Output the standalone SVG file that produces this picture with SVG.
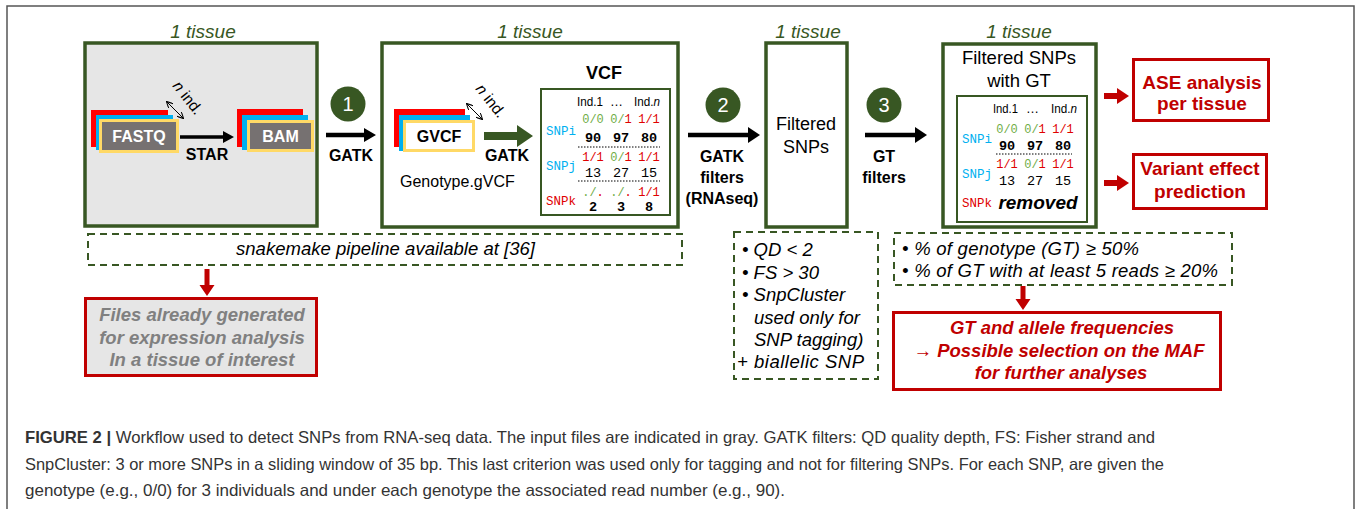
<svg xmlns="http://www.w3.org/2000/svg" width="1356" height="509" viewBox="0 0 1356 509">
<style>
.sans{font-family:"Liberation Sans",Arial,sans-serif}
.mono{font-family:"Liberation Mono","DejaVu Sans Mono",monospace}
.tissue{font-family:"Liberation Sans",Arial,sans-serif;font-style:italic;font-size:19px;fill:#385723;text-anchor:middle}
.box{fill:none;stroke:#385723;stroke-width:3.5}
.tbl{fill:#fff;stroke:#385723;stroke-width:2}
.dash{fill:#fff;stroke:#385723;stroke-width:2;stroke-dasharray:7 5}
.redbox{stroke:#c00000;stroke-width:3}
.lbl{font-family:"Liberation Sans",Arial,sans-serif;font-weight:bold;font-size:16px;text-anchor:middle;fill:#000}
.num{font-family:"Liberation Sans",Arial,sans-serif;font-size:20px;fill:#fff;text-anchor:middle}
.hdr{font-family:"Liberation Sans",Arial,sans-serif;font-size:13px;fill:#000}
.g{fill:#70ad47}.r{fill:#e00000}.c{fill:#00b0f0}
.geno{font-family:"Liberation Mono","DejaVu Sans Mono",monospace;font-size:12px;text-anchor:middle}
.cnt{font-family:"Liberation Mono","DejaVu Sans Mono",monospace;font-size:13.5px;text-anchor:middle;fill:#000}
.dot{stroke:#000;stroke-width:1;stroke-dasharray:1.5 1.5}
.it{font-family:"Liberation Sans",Arial,sans-serif;font-style:italic;font-size:18.5px;fill:#000}
.redt{font-family:"Liberation Sans",Arial,sans-serif;font-weight:bold;font-size:19px;fill:#c00000;text-anchor:middle}
.redi{font-family:"Liberation Sans",Arial,sans-serif;font-weight:bold;font-style:italic;font-size:18.5px;fill:#c00000;text-anchor:middle}
.gray{font-family:"Liberation Sans",Arial,sans-serif;font-weight:bold;font-style:italic;font-size:18.5px;fill:#808080;text-anchor:middle}
.cap{font-family:"Liberation Sans",Arial,sans-serif;font-size:16.5px;fill:#333}
</style>
<defs>
<marker id="sm" viewBox="0 0 8 8" refX="7" refY="4" markerWidth="7" markerHeight="7" markerUnits="userSpaceOnUse" orient="auto-start-reverse">
<path d="M0,0 L8,4 L0,8" fill="none" stroke="#000" stroke-width="1.2"/>
</marker>
</defs>

<rect x="7" y="6" width="1347" height="520" fill="#fff" stroke="#555" stroke-width="1.5"/>

<!-- Box 1 -->
<g id="box1">
<text class="tissue" x="203" y="38">1 tissue</text>
<rect x="85" y="43" width="232" height="183" fill="#e6e6e6" stroke="#385723" stroke-width="3.5"/>
<rect x="91" y="110" width="77" height="37" fill="#ff0000"/>
<rect x="96" y="115" width="77" height="35" fill="#00b0f0"/>
<rect x="100.5" y="120.5" width="77" height="31" fill="#767171" stroke="#ffd966" stroke-width="3"/>
<text class="lbl" x="139" y="142" style="fill:#fff">FASTQ</text>
<rect x="237" y="109" width="66" height="38" fill="#ff0000"/>
<rect x="242" y="115" width="66" height="35" fill="#00b0f0"/>
<rect x="248.5" y="121.5" width="64" height="29" fill="#767171" stroke="#ffd966" stroke-width="3"/>
<text class="lbl" x="280.5" y="142" style="fill:#fff">BAM</text>
<text class="lbl" x="207" y="160">STAR</text>
<text class="sans" font-size="15.5" transform="translate(172,86) rotate(52)"><tspan font-style="italic">n</tspan> ind.</text>
<line x1="167" y1="102" x2="183" y2="118" stroke="#000" stroke-width="1" marker-start="url(#sm)" marker-end="url(#sm)"/>
</g>

<!-- Box 2 -->
<g id="box2">
<text class="tissue" x="530" y="38">1 tissue</text>
<rect x="382" y="43" width="296" height="184" class="box"/>
<rect x="394" y="109" width="71" height="38" fill="#ff0000"/>
<rect x="399" y="115" width="71" height="36" fill="#00b0f0"/>
<rect x="404.5" y="121.5" width="69" height="29" fill="#fff" stroke="#ffd966" stroke-width="3"/>
<text class="lbl" x="439" y="142">GVCF</text>
<text class="sans" font-size="15.5" transform="translate(475,89) rotate(52)"><tspan font-style="italic">n</tspan> ind.</text>
<line x1="467" y1="104" x2="482" y2="119" stroke="#000" stroke-width="1" marker-start="url(#sm)" marker-end="url(#sm)"/>
<text class="lbl" x="507" y="161">GATK</text>
<text class="sans" font-size="16" x="400" y="187">Genotype.gVCF</text>
<text class="sans" font-size="18" font-weight="bold" x="604" y="79" text-anchor="middle">VCF</text>
<rect x="541" y="89" width="129" height="126" class="tbl"/>
<text class="hdr" x="577" y="106" textLength="26" lengthAdjust="spacingAndGlyphs">Ind.1</text>
<text class="hdr" x="610" y="106">…</text>
<text class="hdr" x="634" y="106" textLength="26" lengthAdjust="spacingAndGlyphs">Ind.<tspan font-style="italic">n</tspan></text>
<text class="mono c" font-size="12.5" x="546" y="135">SNPi</text>
<text class="geno" x="593" y="123"><tspan class="g">0/0</tspan></text>
<text class="geno" x="621" y="123"><tspan class="g">0/</tspan><tspan class="r">1</tspan></text>
<text class="geno" x="649" y="123"><tspan class="r">1/1</tspan></text>
<text class="cnt" font-weight="bold" x="593" y="142">90</text>
<text class="cnt" font-weight="bold" x="621" y="142">97</text>
<text class="cnt" font-weight="bold" x="649" y="142">80</text>
<line x1="578" y1="147" x2="660" y2="147" class="dot"/>
<text class="mono c" font-size="12.5" x="546" y="170">SNPj</text>
<text class="geno" x="593" y="161"><tspan class="r">1/1</tspan></text>
<text class="geno" x="621" y="161"><tspan class="g">0/</tspan><tspan class="r">1</tspan></text>
<text class="geno" x="649" y="161"><tspan class="r">1/1</tspan></text>
<text class="cnt" x="593" y="177">13</text>
<text class="cnt" x="621" y="177">27</text>
<text class="cnt" x="649" y="177">15</text>
<line x1="578" y1="181" x2="660" y2="181" class="dot"/>
<text class="mono r" font-size="12.5" x="546" y="205">SNPk</text>
<text class="geno" x="593" y="196"><tspan class="g">./</tspan><tspan class="r">.</tspan></text>
<text class="geno" x="621" y="196"><tspan class="g">./</tspan><tspan class="r">.</tspan></text>
<text class="geno" x="649" y="196"><tspan class="r">1/1</tspan></text>
<text class="cnt" font-weight="bold" x="593" y="211">2</text>
<text class="cnt" font-weight="bold" x="621" y="211">3</text>
<text class="cnt" font-weight="bold" x="649" y="211">8</text>
</g>

<!-- Box 3 -->
<g id="box3">
<text class="tissue" x="808" y="38">1 tissue</text>
<rect x="766" y="43" width="81" height="184" class="box"/>
<text class="sans" font-size="18" x="806" y="130" text-anchor="middle">Filtered</text>
<text class="sans" font-size="18" x="806" y="153" text-anchor="middle">SNPs</text>
</g>

<!-- Box 4 -->
<g id="box4">
<text class="tissue" x="1019" y="38">1 tissue</text>
<rect x="943" y="44" width="153" height="183" class="box"/>
<text class="sans" font-size="18.5" x="1019" y="64" text-anchor="middle">Filtered SNPs</text>
<text class="sans" font-size="18.5" x="1019" y="87" text-anchor="middle">with GT</text>
<rect x="957" y="96" width="130" height="126" class="tbl"/>
<text class="hdr" x="993" y="113" textLength="25" lengthAdjust="spacingAndGlyphs">Ind.1</text>
<text class="hdr" x="1026" y="113">…</text>
<text class="hdr" x="1051" y="113" textLength="26" lengthAdjust="spacingAndGlyphs">Ind.<tspan font-style="italic">n</tspan></text>
<text class="mono c" font-size="12.5" x="962" y="143">SNPi</text>
<text class="geno" x="1007" y="133"><tspan class="g">0/0</tspan></text>
<text class="geno" x="1035" y="133"><tspan class="g">0/</tspan><tspan class="r">1</tspan></text>
<text class="geno" x="1063" y="133"><tspan class="r">1/1</tspan></text>
<text class="cnt" font-weight="bold" x="1007" y="150">90</text>
<text class="cnt" font-weight="bold" x="1035" y="150">97</text>
<text class="cnt" font-weight="bold" x="1063" y="150">80</text>
<line x1="996" y1="154" x2="1072" y2="154" class="dot"/>
<text class="mono c" font-size="12.5" x="962" y="178">SNPj</text>
<text class="geno" x="1007" y="168"><tspan class="r">1/1</tspan></text>
<text class="geno" x="1035" y="168"><tspan class="g">0/</tspan><tspan class="r">1</tspan></text>
<text class="geno" x="1063" y="168"><tspan class="r">1/1</tspan></text>
<text class="cnt" x="1007" y="185">13</text>
<text class="cnt" x="1035" y="185">27</text>
<text class="cnt" x="1063" y="185">15</text>
<text class="mono r" font-size="12.5" x="962" y="207">SNPk</text>
<text class="sans" font-size="19" font-weight="bold" font-style="italic" x="1038" y="209" text-anchor="middle">removed</text>
</g>

<!-- Step circles -->
<g id="step1"><circle cx="348" cy="104" r="17.5" fill="#385723"/><text class="num" x="348" y="111">1</text></g>
<g id="step2"><circle cx="723" cy="105" r="17.5" fill="#385723"/><text class="num" x="723" y="112">2</text></g>
<g id="step3"><circle cx="884" cy="105" r="17.5" fill="#385723"/><text class="num" x="884" y="112">3</text></g>

<!-- Arrow labels -->
<g id="labels">
<text class="lbl" x="351" y="161">GATK</text>
<text class="lbl" x="722" y="162">GATK</text>
<text class="lbl" x="722" y="183">filters</text>
<text class="lbl" x="722" y="204">(RNAseq)</text>
<text class="lbl" x="884" y="162">GT</text>
<text class="lbl" x="884" y="183">filters</text>
</g>

<!-- Output boxes -->
<g id="ase">
<rect x="1133.5" y="59.5" width="135" height="61" fill="#fff" class="redbox"/>
<text class="redt" x="1202" y="89">ASE analysis</text>
<text class="redt" x="1202" y="110">per tissue</text>
</g>
<g id="variant">
<rect x="1133.5" y="154.5" width="133" height="54" fill="#fff" class="redbox"/>
<text class="redt" x="1200" y="175">Variant effect</text>
<text class="redt" x="1200" y="198">prediction</text>
</g>

<!-- Dashed notes -->
<g id="snakemake">
<rect x="88" y="234" width="594" height="31" class="dash"/>
<text class="it" font-size="15.5" x="236" y="255" textLength="299" lengthAdjust="spacing">snakemake pipeline available at [36]</text>
</g>
<g id="files">
<rect x="85.5" y="298.5" width="231" height="77" fill="#e6e6e6" class="redbox"/>
<text class="gray" x="202" y="321">Files already generated</text>
<text class="gray" x="202" y="344">for expression analysis</text>
<text class="gray" x="202" y="366">In a tissue of interest</text>
</g>
<g id="gatk-filters">
<rect x="734" y="232" width="144" height="147" class="dash"/>
<text class="it" x="742" y="256">• QD &lt; 2</text>
<text class="it" x="742" y="279">• FS &gt; 30</text>
<text class="it" x="742" y="301">• SnpCluster</text>
<text class="it" x="754" y="324">used only for</text>
<text class="it" x="754" y="346">SNP tagging)</text>
<text class="it" x="737" y="368" textLength="127" lengthAdjust="spacing">+ biallelic SNP</text>
</g>
<g id="gt-filters">
<rect x="894" y="233" width="338" height="52" class="dash"/>
<text class="it" x="902" y="255" textLength="237" lengthAdjust="spacing">•  % of genotype  (GT) ≥ 50%</text>
<text class="it" x="902" y="277" textLength="316" lengthAdjust="spacing">•  % of GT with at least 5 reads ≥ 20%</text>
</g>
<g id="gt-freq">
<rect x="893.5" y="312.5" width="327" height="77" fill="#fff" class="redbox"/>
<text class="redi" x="1062" y="334">GT and allele frequencies</text>
<text class="redi" x="1059" y="357">→  Possible selection on the MAF</text>
<text class="redi" x="1061" y="379">for further analyses</text>
</g>

<!-- Connectors -->
<g id="connectors">
<path d="M180,135.25 L223,135.25 L223,131 L234,137 L223,143 L223,138.75 L180,138.75 Z" fill="#000"/>
<path d="M326,132.75 L364,132.75 L364,128 L376,135 L364,142 L364,137.25 L326,137.25 Z" fill="#000"/>
<path d="M484,132 L517,132 L517,125 L533,136 L517,147 L517,140 L484,140 Z" fill="#385723"/>
<path d="M688,132.75 L748,132.75 L748,127 L760,135 L748,143 L748,137.25 L688,137.25 Z" fill="#000"/>
<path d="M865,132.75 L915,132.75 L915,127 L927,135 L915,143 L915,137.25 L865,137.25 Z" fill="#000"/>
<path d="M1104,93 L1117,93 L1117,88 L1129,96 L1117,104 L1117,99 L1104,99 Z" fill="#c00000"/>
<path d="M1104,180 L1117,180 L1117,175 L1129,183 L1117,191 L1117,186 L1104,186 Z" fill="#c00000"/>
<path d="M204.5,269 L204.5,285 L199.5,285 L207,296 L214.5,285 L209.5,285 L209.5,269 Z" fill="#c00000"/>
<path d="M1020.5,286 L1020.5,299 L1015.5,299 L1023,310 L1030.5,299 L1025.5,299 L1025.5,286 Z" fill="#c00000"/>
</g>

<!-- Caption -->
<g id="caption">
<text class="cap" x="25" y="443" textLength="1130" lengthAdjust="spacingAndGlyphs"><tspan font-weight="bold">FIGURE 2 |</tspan> Workflow used to detect SNPs from RNA-seq data. The input files are indicated in gray. GATK filters: QD quality depth, FS: Fisher strand and</text>
<text class="cap" x="25" y="470" textLength="1139" lengthAdjust="spacingAndGlyphs">SnpCluster: 3 or more SNPs in a sliding window of 35 bp. This last criterion was used only for tagging and not for filtering SNPs. For each SNP, are given the</text>
<text class="cap" x="25" y="496" textLength="760" lengthAdjust="spacingAndGlyphs">genotype (e.g., 0/0) for 3 individuals and under each genotype the associated read number (e.g., 90).</text>
</g>
</svg>
